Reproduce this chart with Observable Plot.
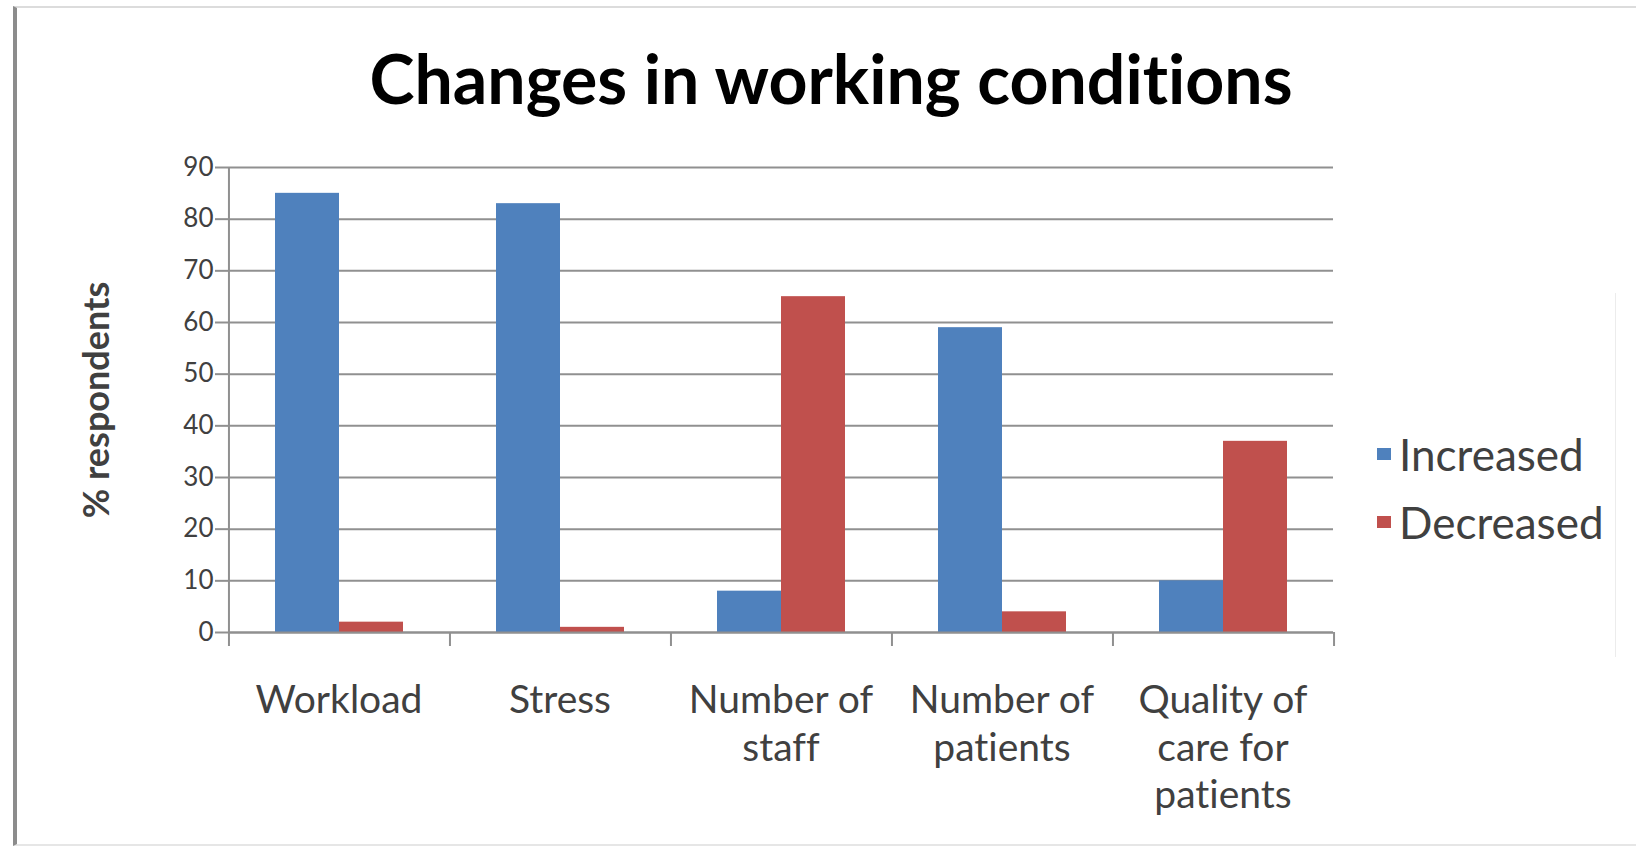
<!DOCTYPE html>
<html><head><meta charset="utf-8">
<script src="https://cdn.jsdelivr.net/npm/d3@7"></script>
<script src="https://cdn.jsdelivr.net/npm/@observablehq/plot@0.6"></script>
<style>
body{margin:0;background:#fff;}
#wrap{position:relative;width:1636px;height:846px;overflow:hidden;background:#fff;font-family:Lato,"Open Sans",sans-serif;font-variant-ligatures:none;}
#frame{position:absolute;left:13px;top:6px;width:1700px;height:836px;border-left:4px solid #8c8c8c;border-top:2px solid #dcdcdc;border-bottom:2px solid #e6e6e6;}
#title{position:absolute;left:0;top:44px;width:1662px;text-align:center;font-weight:bold;font-size:68px;line-height:1;color:#000;font-variant-ligatures:none;}
#chart{position:absolute;left:0;top:130px;}
#legend{position:absolute;left:1377px;top:420px;color:#404040;font-size:44px;}
#legend .item{height:68px;display:flex;align-items:center;}
#legend .sw{display:inline-block;width:14px;height:12px;margin-right:8px;}
#lbox{position:absolute;left:1615px;top:293px;height:364px;border-left:1px solid #ececec;}
</style></head><body>
<div id="wrap">
  <div id="frame"></div>
  <div id="lbox"></div>
  <div id="title">Changes in working conditions</div>
  <div id="chart"></div>
  <div id="legend"></div>
</div>
<script>
const categories = ["Workload", "Stress", "Number of staff", "Number of patients", "Quality of care for patients"];
const categoryLabels = ["Workload", "Stress", "Number of\nstaff", "Number of\npatients", "Quality of\ncare for\npatients"];
const seriesNames = ["Increased", "Decreased"];
const increased = [85, 83, 8, 59, 10];
const decreased = [2, 1, 65, 4, 37];
const yTicks = [0, 10, 20, 30, 40, 50, 60, 70, 80, 90];
const colors = ["#4F81BD", "#C0504D"];

const data = categories.flatMap((c, i) => [
  {category: c, series: seriesNames[0], value: increased[i]},
  {category: c, series: seriesNames[1], value: decreased[i]}
]);

const W = 1400, H = 716, mL = 227, mR = 67, mT = 37, mB = 214;
const padOuter = 0.725;
const facetW = (W - mL - mR) / categories.length;
const step = facetW / (seriesNames.length + 2 * padOuter);
const yMax = yTicks[yTicks.length - 1];
const yPerPx = yMax / (H - mT - mB);
const tickLen = 14;
const gridColor = "#909090";

const plot = Plot.plot({
  width: W, height: H,
  marginLeft: mL, marginRight: mR, marginTop: mT, marginBottom: mB,
  style: {fontFamily: "Lato, 'Open Sans', sans-serif", color: "#404040", background: "transparent", overflow: "visible", fontVariantLigatures: "none"},
  fx: {domain: categories, padding: 0, label: null},
  x: {domain: seriesNames, paddingInner: 0, paddingOuter: padOuter, axis: null},
  y: {domain: [0, yMax], label: null},
  color: {domain: seriesNames, range: colors},
  marks: [
    Plot.gridY(yTicks, {stroke: gridColor, strokeOpacity: 1, strokeWidth: 2}),
    Plot.barY(data, {fx: "category", x: "series", y: "value", fill: "series"}),
    Plot.ruleY([0], {stroke: gridColor, strokeWidth: 2}),
    Plot.ruleX(categories, {fx: d => d, x: () => seriesNames[0], y1: 0, y2: -tickLen * yPerPx,
      dx: -(padOuter + 0.5) * step, stroke: gridColor, strokeWidth: 2}),
    Plot.ruleX([categories[0]], {fx: d => d, x: () => seriesNames[0], y1: yMax, y2: 0,
      dx: -(padOuter + 0.5) * step, stroke: gridColor, strokeWidth: 2}),
    Plot.ruleX([categories[categories.length - 1]], {fx: d => d, x: () => seriesNames[1], y1: 0, y2: -tickLen * yPerPx,
      dx: (padOuter + 0.5) * step, stroke: gridColor, strokeWidth: 2}),
    Plot.axisY(yTicks, {anchor: "left", tickSize: 13, tickPadding: 2, fontSize: 26, stroke: gridColor, strokeWidth: 2, fill: "#404040", label: null}),
    Plot.axisY({anchor: "left", ticks: [], tickSize: 0, label: "% respondents", labelAnchor: "center", labelArrow: "none",
      labelOffset: 145, fontSize: 36, fontWeight: "bold", fill: "#404040"}),
    Plot.axisFx({anchor: "bottom", tickSize: 0, tickPadding: 46, fontSize: 39, lineHeight: 1.23, fill: "#404040",
      tickFormat: d => categoryLabels[categories.indexOf(d)], label: null})
  ]
});
document.getElementById("chart").appendChild(plot);

const legend = d3.select("#legend");
seriesNames.forEach((s, i) => {
  const row = legend.append("div").attr("class", "item");
  row.append("span").attr("class", "sw").style("background", colors[i]);
  row.append("span").text(s);
});
</script>
</body></html>
